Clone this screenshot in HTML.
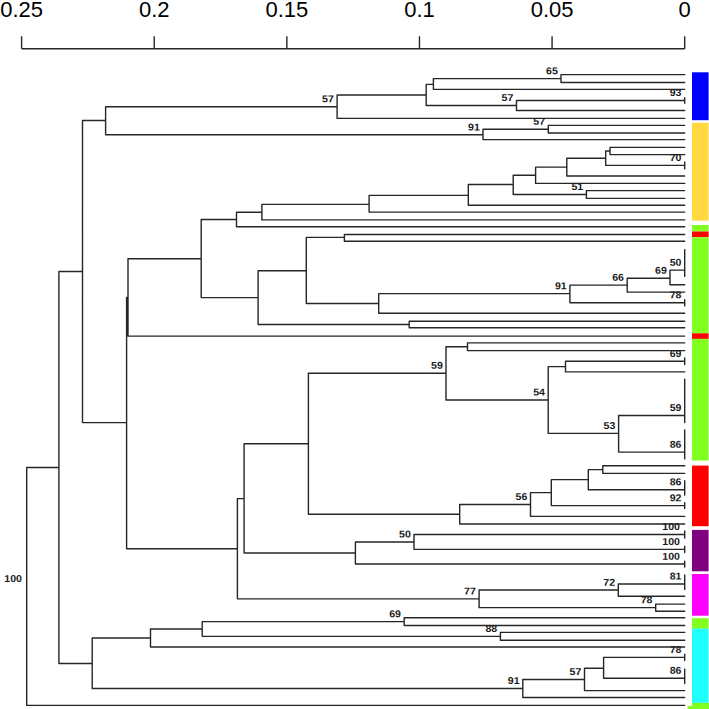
<!DOCTYPE html>
<html><head><meta charset="utf-8"><style>
html,body{margin:0;padding:0;background:#fff;}
svg{display:block;}
.nl{font-family:"Liberation Sans",sans-serif;font-size:10px;font-weight:bold;text-anchor:end;fill:#1a1a1a;}
.ax{font-family:"Liberation Sans",sans-serif;font-size:22px;text-anchor:middle;fill:#000;}
</style></head><body>
<svg width="709" height="709" viewBox="0 0 709 709">
<path d="M26.70 467.51H58.90M58.90 271.53H82.50M82.50 120.45H105.60M105.60 106.68H337.10M337.10 94.96H426.20M426.20 84.40H433.40M433.40 78.58H561.00M561.00 74.66H684.70M561.00 82.50H684.70M433.40 89.33H684.70M426.20 105.53H516.50M516.50 100.50H684.70M516.50 110.55H684.70M337.10 118.40H684.70M105.60 134.80H483.00M483.00 129.18H548.30M548.30 125.35H684.70M548.30 133.00H684.70M483.00 139.60H684.70M82.50 422.60H126.60M126.60 297.40H128.00M128.00 258.70H201.20M201.20 219.50H236.50M236.50 212.20H261.90M261.90 204.35H369.10M369.10 195.35H468.30M468.30 184.50H513.20M513.20 175.25H535.60M535.60 167.10H566.80M566.80 158.20H605.70M605.70 151.00H610.00M610.00 147.40H684.70M610.00 154.60H684.70M605.70 165.40H684.70M566.80 176.00H684.70M535.60 183.40H684.70M513.20 194.50H586.40M586.40 190.60H684.70M586.40 198.40H684.70M468.30 205.30H684.70M369.10 212.10H684.70M261.90 219.90H684.70M236.50 226.80H684.70M201.20 297.62H258.10M258.10 270.75H306.30M306.30 237.40H344.40M344.40 234.50H684.70M344.40 241.30H684.70M306.30 303.45H378.70M378.70 293.60H569.90M569.90 285.15H627.20M627.20 278.20H670.00M670.00 270.12H684.70M670.00 284.80H684.70M627.20 292.10H684.70M569.90 302.75H684.70M378.70 313.30H684.70M258.10 324.50H409.20M409.20 321.20H684.70M409.20 327.80H684.70M128.00 336.10H684.70M126.60 548.73H237.40M237.40 498.60H244.10M244.10 443.73H308.40M308.40 373.20H446.00M446.00 346.75H467.50M467.50 342.90H684.70M467.50 350.60H684.70M446.00 400.00H548.20M548.20 366.60H565.50M565.50 361.30H684.70M565.50 371.90H684.70M548.20 433.40H618.60M618.60 415.52H684.70M618.60 452.10H684.70M308.40 514.26H459.70M459.70 504.51H530.50M530.50 492.63H551.30M551.30 479.65H588.30M588.30 469.60H602.80M602.80 465.80H684.70M602.80 473.40H684.70M588.30 489.71H684.70M551.30 505.60H684.70M530.50 516.40H684.70M459.70 524.00H684.70M244.10 553.00H355.40M355.40 541.95H414.00M414.00 534.50H684.70M414.00 549.40H684.70M355.40 564.05H684.70M237.40 598.86H479.10M479.10 590.07H618.30M618.30 583.94H684.70M618.30 596.20H684.70M479.10 607.65H655.70M655.70 604.10H684.70M655.70 611.20H684.70M58.90 663.50H92.20M92.20 637.99H150.50M150.50 628.97H202.20M202.20 621.60H404.20M404.20 617.70H684.70M404.20 625.50H684.70M202.20 636.35H500.40M500.40 632.40H684.70M500.40 640.30H684.70M150.50 647.00H684.70M92.20 688.48H522.80M522.80 679.45H584.50M584.50 668.30H603.60M603.60 657.40H684.70M603.60 678.18H684.70M584.50 690.60H684.70M522.80 697.50H684.70M26.70 705.40H684.70M561.00 74.66V82.50M433.40 78.58V89.33M684.70 97.70V103.30M516.50 100.50V110.55M426.20 84.40V105.53M337.10 94.96V118.40M548.30 125.35V133.00M483.00 129.18V139.60M105.60 106.68V134.80M610.00 147.40V154.60M684.70 162.00V168.80M605.70 151.00V165.40M566.80 158.20V176.00M535.60 167.10V183.40M586.40 190.60V198.40M513.20 175.25V194.50M468.30 184.50V205.30M369.10 195.35V212.10M261.90 204.35V219.90M236.50 212.20V226.80M344.40 234.50V241.30M684.70 249.60V256.30M684.70 252.95V263.00M684.70 257.98V269.70M684.70 263.84V276.40M670.00 270.12V284.80M627.20 278.20V292.10M684.70 299.60V305.90M569.90 285.15V302.75M378.70 293.60V313.30M306.30 237.40V303.45M409.20 321.20V327.80M258.10 270.75V324.50M201.20 219.50V297.62M128.00 258.70V336.10M467.50 342.90V350.60M684.70 358.00V364.60M565.50 361.30V371.90M684.70 379.16V386.41M684.70 382.78V393.66M684.70 388.22V400.90M684.70 394.56V408.15M684.70 401.36V415.40M684.70 408.38V422.65M684.70 429.90V437.15M684.70 433.53V444.40M684.70 438.96V451.65M684.70 445.31V458.90M618.60 415.52V452.10M548.20 366.60V433.40M446.00 346.75V400.00M602.80 465.80V473.40M684.70 480.64V487.89M684.70 484.27V495.14M588.30 469.60V489.71M684.70 502.60V508.60M551.30 479.65V505.60M530.50 492.63V516.40M459.70 504.51V524.00M308.40 373.20V514.26M684.70 531.00V538.00M684.70 546.20V552.60M414.00 534.50V549.40M684.70 561.10V567.00M355.40 541.95V564.05M244.10 443.73V553.00M684.70 574.88V582.13M684.70 578.51V589.38M618.30 583.94V596.20M655.70 604.10V611.20M479.10 590.07V607.65M237.40 498.60V598.86M126.60 297.40V548.73M82.50 120.45V422.60M404.20 617.70V625.50M500.40 632.40V640.30M202.20 621.60V636.35M150.50 628.97V647.00M684.70 654.30V660.50M684.70 669.12V676.37M684.70 672.74V683.62M603.60 657.40V678.18M584.50 668.30V690.60M522.80 679.45V697.50M92.20 637.99V688.48M58.90 271.53V663.50M26.70 467.51V705.40" fill="none" stroke="#262626" stroke-width="1.4" stroke-linecap="round" stroke-linejoin="round"/>
<text transform="translate(557.82 74.18) rotate(0.05) scale(1.06 1)" class="nl">65</text>
<text transform="translate(681.52 96.10) rotate(0.05) scale(1.06 1)" class="nl">93</text>
<text transform="translate(513.32 101.12) rotate(0.05) scale(1.06 1)" class="nl">57</text>
<text transform="translate(333.92 102.28) rotate(0.05) scale(1.06 1)" class="nl">57</text>
<text transform="translate(545.12 124.78) rotate(0.05) scale(1.06 1)" class="nl">57</text>
<text transform="translate(479.82 130.40) rotate(0.05) scale(1.06 1)" class="nl">91</text>
<text transform="translate(681.52 161.00) rotate(0.05) scale(1.06 1)" class="nl">70</text>
<text transform="translate(583.22 190.10) rotate(0.05) scale(1.06 1)" class="nl">51</text>
<text transform="translate(681.52 265.72) rotate(0.05) scale(1.06 1)" class="nl">50</text>
<text transform="translate(666.82 273.80) rotate(0.05) scale(1.06 1)" class="nl">69</text>
<text transform="translate(624.02 280.75) rotate(0.05) scale(1.06 1)" class="nl">66</text>
<text transform="translate(681.52 298.35) rotate(0.05) scale(1.06 1)" class="nl">78</text>
<text transform="translate(566.72 289.20) rotate(0.05) scale(1.06 1)" class="nl">91</text>
<text transform="translate(681.52 356.90) rotate(0.05) scale(1.06 1)" class="nl">69</text>
<text transform="translate(681.52 411.12) rotate(0.05) scale(1.06 1)" class="nl">59</text>
<text transform="translate(681.52 447.70) rotate(0.05) scale(1.06 1)" class="nl">86</text>
<text transform="translate(615.42 429.00) rotate(0.05) scale(1.06 1)" class="nl">53</text>
<text transform="translate(545.02 395.60) rotate(0.05) scale(1.06 1)" class="nl">54</text>
<text transform="translate(442.82 368.80) rotate(0.05) scale(1.06 1)" class="nl">59</text>
<text transform="translate(681.52 485.31) rotate(0.05) scale(1.06 1)" class="nl">86</text>
<text transform="translate(681.52 501.20) rotate(0.05) scale(1.06 1)" class="nl">92</text>
<text transform="translate(527.32 500.11) rotate(0.05) scale(1.06 1)" class="nl">56</text>
<text transform="translate(679.93 530.10) rotate(0.05) scale(1.06 1)" class="nl">100</text>
<text transform="translate(679.93 545.00) rotate(0.05) scale(1.06 1)" class="nl">100</text>
<text transform="translate(410.82 537.55) rotate(0.05) scale(1.06 1)" class="nl">50</text>
<text transform="translate(679.93 559.65) rotate(0.05) scale(1.06 1)" class="nl">100</text>
<text transform="translate(681.52 579.54) rotate(0.05) scale(1.06 1)" class="nl">81</text>
<text transform="translate(615.12 585.67) rotate(0.05) scale(1.06 1)" class="nl">72</text>
<text transform="translate(652.52 603.25) rotate(0.05) scale(1.06 1)" class="nl">78</text>
<text transform="translate(475.92 594.46) rotate(0.05) scale(1.06 1)" class="nl">77</text>
<text transform="translate(401.02 617.20) rotate(0.05) scale(1.06 1)" class="nl">69</text>
<text transform="translate(497.22 631.95) rotate(0.05) scale(1.06 1)" class="nl">88</text>
<text transform="translate(681.52 653.00) rotate(0.05) scale(1.06 1)" class="nl">78</text>
<text transform="translate(681.52 673.78) rotate(0.05) scale(1.06 1)" class="nl">86</text>
<text transform="translate(581.32 675.05) rotate(0.05) scale(1.06 1)" class="nl">57</text>
<text transform="translate(519.62 684.08) rotate(0.05) scale(1.06 1)" class="nl">91</text>
<text transform="translate(21.93 582.06) rotate(0.05) scale(1.06 1)" class="nl">100</text>
<path d="M21.60 48.70H684.70M21.60 48.70V36.20M154.22 48.70V36.20M286.84 48.70V36.20M419.46 48.70V36.20M552.08 48.70V36.20M684.70 48.70V36.20" fill="none" stroke="#262626" stroke-width="1.4" stroke-linecap="butt"/>
<text x="21.60" y="17.3" class="ax">0.25</text>
<text x="154.22" y="17.3" class="ax">0.2</text>
<text x="286.84" y="17.3" class="ax">0.15</text>
<text x="419.46" y="17.3" class="ax">0.1</text>
<text x="552.08" y="17.3" class="ax">0.05</text>
<text x="684.70" y="17.3" class="ax">0</text>
<rect x="692.00" y="72.30" width="16.60" height="47.90" fill="#0000ff"/>
<rect x="692.00" y="122.70" width="16.60" height="97.90" fill="#ffd942"/>
<rect x="692.00" y="225.00" width="16.60" height="6.50" fill="#80ff20"/>
<rect x="692.00" y="231.50" width="16.60" height="5.70" fill="#ff0000"/>
<rect x="692.00" y="237.20" width="16.60" height="96.10" fill="#80ff20"/>
<rect x="692.00" y="333.30" width="16.60" height="5.60" fill="#ff0000"/>
<rect x="692.00" y="338.90" width="16.60" height="121.60" fill="#80ff20"/>
<rect x="692.00" y="465.60" width="16.60" height="60.60" fill="#ff0000"/>
<rect x="692.00" y="529.90" width="16.60" height="41.40" fill="#800080"/>
<rect x="692.00" y="574.00" width="16.60" height="41.70" fill="#ff00ff"/>
<rect x="692.00" y="618.20" width="16.60" height="10.50" fill="#80ff20"/>
<rect x="692.00" y="628.70" width="16.60" height="74.20" fill="#20ffff"/>
<rect x="692.0" y="702.9" width="17" height="7" fill="#80ff20"/>
<rect x="687.7" y="705.9" width="22" height="4" fill="#80ff20"/>
</svg>
</body></html>
